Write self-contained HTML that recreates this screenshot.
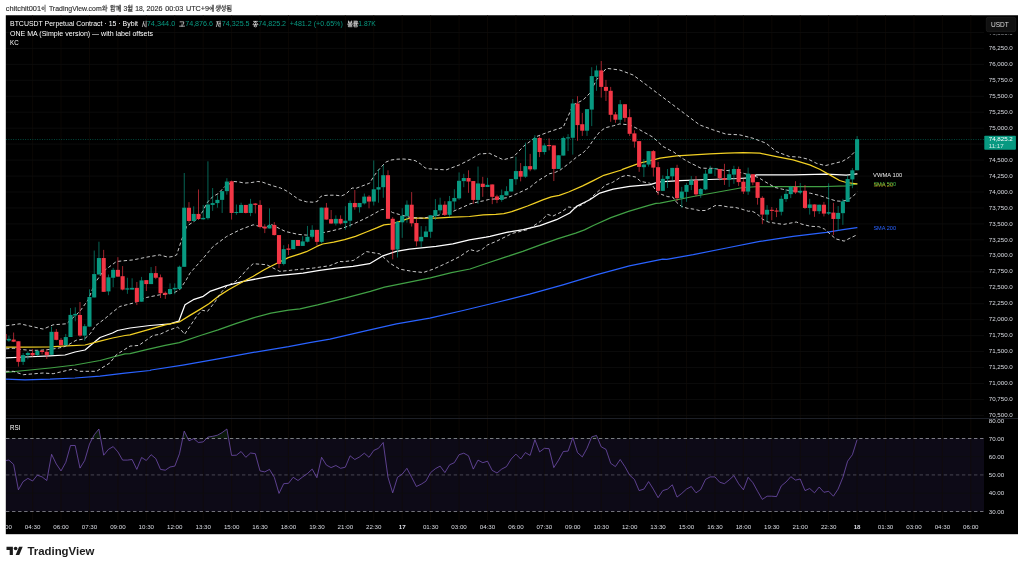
<!DOCTYPE html>
<html><head><meta charset="utf-8"><title>chart</title>
<style>
html,body{margin:0;padding:0;background:#fff;}
body{width:1024px;height:568px;position:relative;overflow:hidden;font-family:"Liberation Sans",sans-serif;}
#hdr{position:absolute;left:6px;top:4.5px;font-size:7.1px;color:#3a3a3a;white-space:nowrap;letter-spacing:0;}
</style></head><body>
<svg width="1024" height="568" viewBox="0 0 1024 568" style="position:absolute;left:0;top:0;will-change:transform">
<defs><clipPath id="plot"><rect x="6" y="15" width="978" height="403.5"/></clipPath>
<clipPath id="rsi"><rect x="6" y="419" width="978" height="99"/></clipPath></defs>
<rect x="5.8" y="15.25" width="1012.2" height="518.95" fill="#000"/>
<rect x="6" y="438.47" width="978" height="72.93" fill="#0d0a17"/>
<g stroke="#130c06" stroke-width="0.6" fill="none"><line x1="32.60" y1="15" x2="32.60" y2="520"/><line x1="61.03" y1="15" x2="61.03" y2="520"/><line x1="89.46" y1="15" x2="89.46" y2="520"/><line x1="117.89" y1="15" x2="117.89" y2="520"/><line x1="146.33" y1="15" x2="146.33" y2="520"/><line x1="174.76" y1="15" x2="174.76" y2="520"/><line x1="203.19" y1="15" x2="203.19" y2="520"/><line x1="231.62" y1="15" x2="231.62" y2="520"/><line x1="260.05" y1="15" x2="260.05" y2="520"/><line x1="288.48" y1="15" x2="288.48" y2="520"/><line x1="316.91" y1="15" x2="316.91" y2="520"/><line x1="345.34" y1="15" x2="345.34" y2="520"/><line x1="373.77" y1="15" x2="373.77" y2="520"/><line x1="402.20" y1="15" x2="402.20" y2="520"/><line x1="430.63" y1="15" x2="430.63" y2="520"/><line x1="459.07" y1="15" x2="459.07" y2="520"/><line x1="487.50" y1="15" x2="487.50" y2="520"/><line x1="515.93" y1="15" x2="515.93" y2="520"/><line x1="544.36" y1="15" x2="544.36" y2="520"/><line x1="572.79" y1="15" x2="572.79" y2="520"/><line x1="601.22" y1="15" x2="601.22" y2="520"/><line x1="629.65" y1="15" x2="629.65" y2="520"/><line x1="658.08" y1="15" x2="658.08" y2="520"/><line x1="686.51" y1="15" x2="686.51" y2="520"/><line x1="714.95" y1="15" x2="714.95" y2="520"/><line x1="743.38" y1="15" x2="743.38" y2="520"/><line x1="771.81" y1="15" x2="771.81" y2="520"/><line x1="800.24" y1="15" x2="800.24" y2="520"/><line x1="828.67" y1="15" x2="828.67" y2="520"/><line x1="857.10" y1="15" x2="857.10" y2="520"/><line x1="885.53" y1="15" x2="885.53" y2="520"/><line x1="913.96" y1="15" x2="913.96" y2="520"/><line x1="942.39" y1="15" x2="942.39" y2="520"/><line x1="970.82" y1="15" x2="970.82" y2="520"/></g>
<g stroke="#0e0e0e" stroke-width="0.8" fill="none"><line x1="6" y1="32.44" x2="984" y2="32.44"/><line x1="6" y1="48.39" x2="984" y2="48.39"/><line x1="6" y1="64.35" x2="984" y2="64.35"/><line x1="6" y1="80.31" x2="984" y2="80.31"/><line x1="6" y1="96.26" x2="984" y2="96.26"/><line x1="6" y1="112.22" x2="984" y2="112.22"/><line x1="6" y1="128.18" x2="984" y2="128.18"/><line x1="6" y1="144.13" x2="984" y2="144.13"/><line x1="6" y1="160.09" x2="984" y2="160.09"/><line x1="6" y1="176.05" x2="984" y2="176.05"/><line x1="6" y1="192.00" x2="984" y2="192.00"/><line x1="6" y1="207.96" x2="984" y2="207.96"/><line x1="6" y1="223.92" x2="984" y2="223.92"/><line x1="6" y1="239.87" x2="984" y2="239.87"/><line x1="6" y1="255.83" x2="984" y2="255.83"/><line x1="6" y1="271.79" x2="984" y2="271.79"/><line x1="6" y1="287.74" x2="984" y2="287.74"/><line x1="6" y1="303.70" x2="984" y2="303.70"/><line x1="6" y1="319.66" x2="984" y2="319.66"/><line x1="6" y1="335.61" x2="984" y2="335.61"/><line x1="6" y1="351.57" x2="984" y2="351.57"/><line x1="6" y1="367.53" x2="984" y2="367.53"/><line x1="6" y1="383.49" x2="984" y2="383.49"/><line x1="6" y1="399.44" x2="984" y2="399.44"/><line x1="6" y1="415.40" x2="984" y2="415.40"/><line x1="6" y1="456.70" x2="984" y2="456.70"/><line x1="6" y1="493.20" x2="984" y2="493.20"/></g>
<line x1="6" y1="418.5" x2="1018" y2="418.5" stroke="#2a2e39" stroke-width="0.7"/>
<line x1="6" y1="139.4" x2="984" y2="139.4" stroke="#089981" stroke-width="0.65" stroke-dasharray="0.9 1.5" opacity="0.9"/>
<g clip-path="url(#plot)">
<polyline points="6.0,379.2 25.0,379.8 50.0,379.2 75.0,378.0 100.0,376.2 125.0,373.2 150.0,370.5 151.1,370.0 182.8,365.1 218.1,358.9 253.3,352.4 288.5,346.6 309.6,342.6 330.0,339.1 363.3,331.4 396.5,323.8 429.8,318.1 463.1,310.5 496.3,302.5 529.6,294.1 562.9,284.8 596.1,274.9 629.4,265.9 662.7,259.2 666.7,259.4 693.3,254.7 726.5,248.0 759.8,241.4 793.1,236.4 826.3,232.4 843.0,229.7 856.9,227.7" fill="none" stroke="#2962ff" stroke-width="1.25" stroke-linejoin="round" stroke-linecap="round"/>
<polyline points="6.0,372.5 25.0,370.5 50.0,368.0 75.0,365.0 100.0,360.5 125.0,353.8 130.0,353.7 147.6,349.3 165.2,345.4 179.3,342.6 200.4,335.5 218.1,329.9 235.7,323.7 253.3,317.9 270.9,313.1 288.5,310.2 300.0,308.9 317.6,304.9 345.8,297.8 370.4,291.3 384.5,287.2 405.7,282.8 430.3,277.9 451.5,272.6 470.0,269.0 487.6,263.0 505.2,257.2 522.8,251.4 540.4,244.9 558.1,238.7 575.7,233.1 584.5,229.9 593.3,225.5 610.9,217.6 628.5,211.4 649.6,205.2 656.0,203.3 660.0,203.1 693.3,196.5 726.5,190.5 743.2,187.5 759.8,186.5 793.1,186.5 826.3,186.5 846.3,185.8 856.9,183.8" fill="none" stroke="#41a045" stroke-width="1.25" stroke-linejoin="round" stroke-linecap="round"/>
<polyline points="6.0,358.0 25.0,357.0 50.0,355.8 65.0,355.0 75.0,352.0 85.0,350.0 92.5,343.8 100.0,337.5 112.5,333.0 117.5,330.5 130.0,328.0 150.0,325.5 170.0,323.8 178.8,321.2 180.0,318.0 185.0,304.7 193.3,299.7 203.3,296.3 209.9,291.4 226.6,285.7 243.2,281.4 269.8,276.4 303.1,273.1 319.7,270.4 336.3,268.1 353.0,266.4 369.6,263.7 382.9,255.8 396.2,251.4 409.5,249.1 436.1,246.4 452.8,243.8 469.4,239.8 486.0,237.1 490.0,236.3 506.6,232.3 523.3,229.6 539.9,225.7 556.5,219.7 569.8,213.0 576.5,206.4 589.8,199.7 599.8,193.1 613.1,189.1 629.7,186.4 650.0,184.7 654.9,183.2 659.9,181.9 679.6,180.7 709.2,179.5 738.8,178.5 748.6,177.8 749.8,177.2 756.5,174.9 793.1,174.9 826.3,174.2 846.3,175.2 856.9,173.9" fill="none" stroke="#ffffff" stroke-width="1.25" stroke-linejoin="round" stroke-linecap="round"/>
<polyline points="6.0,347.0 25.0,347.0 50.0,346.8 67.5,345.8 85.0,345.0 100.0,341.2 112.5,338.0 125.0,335.5 130.0,334.8 147.6,329.9 165.2,324.9 179.3,322.0 189.9,315.4 200.4,309.1 209.3,303.5 218.1,296.4 228.6,289.7 239.2,283.7 253.3,276.2 263.8,270.0 270.0,266.8 288.3,257.6 300.0,253.8 306.4,251.7 317.3,246.2 322.8,244.0 333.7,242.2 344.6,239.7 355.5,236.4 366.4,232.0 377.3,227.7 383.9,224.9 390.4,224.1 399.2,221.7 409.5,218.2 422.8,218.2 436.1,218.2 452.8,217.2 469.4,216.5 483.2,214.8 495.8,214.4 503.8,213.6 511.7,211.6 519.6,208.8 527.5,206.0 535.4,202.9 543.4,199.7 551.3,196.9 559.2,195.3 568.6,192.0 582.7,185.9 593.3,180.6 603.8,175.3 621.5,170.0 623.1,169.1 639.7,163.1 656.3,159.1 660.0,158.2 676.6,155.9 693.3,154.9 709.9,153.9 726.5,153.2 743.2,152.6 759.8,153.2 776.4,156.6 793.1,159.9 809.7,164.9 819.7,169.2 829.7,174.9 839.6,180.5 846.3,182.5 856.9,183.8" fill="none" stroke="#f2d024" stroke-width="1.25" stroke-linejoin="round" stroke-linecap="round"/>
<polyline points="6.0,325.8 20.0,323.8 43.2,329.1 53.2,324.8 66.5,323.8 79.8,311.4 88.2,299.8 94.8,283.2 103.1,271.5 116.4,261.5 133.1,259.9 146.4,257.2 159.7,254.9 168.0,257.2 173.3,256.4 176.7,254.8 181.6,239.8 186.6,226.5 190.0,224.0 194.4,221.3 199.8,215.9 203.1,210.9 206.4,203.8 209.7,199.5 213.5,196.2 218.4,193.5 222.8,188.6 225.0,186.4 233.7,181.5 239.1,182.0 244.6,183.1 251.1,182.6 257.7,181.5 262.1,182.0 267.5,184.0 274.1,186.2 280.6,188.0 286.1,190.7 290.4,193.5 294.8,196.7 299.2,199.7 306.4,201.8 312.9,202.2 317.3,201.5 319.5,197.6 322.2,195.7 328.2,195.2 335.9,195.2 341.3,196.0 345.7,194.1 349.0,191.1 352.0,188.0 356.3,188.2 369.6,183.2 371.2,180.5 374.1,175.8 377.6,171.1 381.7,166.4 385.8,162.1 391.1,160.0 397.0,159.2 403.0,159.0 409.0,159.4 415.1,160.6 420.4,163.8 425.1,167.9 429.2,168.8 446.1,169.9 459.4,164.9 469.4,159.9 479.4,154.0 489.4,153.3 503.3,159.8 513.3,157.1 523.3,146.5 536.6,136.5 549.9,131.5 563.2,127.2 573.2,104.9 583.2,99.9 589.8,93.2 596.5,79.9 606.4,68.3 619.7,70.0 633.1,75.0 646.4,84.9 659.7,94.9 673.0,104.9 686.3,114.9 699.6,124.9 712.9,129.8 726.2,134.2 739.5,134.8 752.8,138.2 766.1,143.2 776.1,151.5 789.4,156.5 799.4,157.1 808.5,159.3 816.9,163.5 825.4,165.6 833.8,163.5 842.3,161.4 849.3,157.2 854.2,152.3" fill="none" stroke="#dedede" stroke-width="0.9" stroke-dasharray="3.4 2.4" stroke-linejoin="round"/>
<polyline points="6.0,348.8 14.0,348.2 22.0,349.6 30.0,350.3 40.0,350.3 48.0,349.6 57.0,348.4 64.0,346.8 67.6,345.2 76.1,340.3 84.5,338.9 90.1,333.9 95.8,325.5 104.2,319.2 112.7,312.1 119.8,306.5 133.1,303.1 146.4,297.5 159.7,294.8 173.0,293.2 179.6,289.8 186.3,279.8 190.0,273.1 203.3,258.1 213.2,246.4 226.6,236.5 239.9,229.8 253.2,224.8 266.5,228.1 270.0,223.8 277.0,227.3 285.5,231.5 298.2,234.4 306.6,235.1 325.0,232.3 332.0,230.8 343.2,228.0 354.5,223.5 368.6,216.8 381.3,209.7 386.9,209.0 392.5,212.5 399.6,214.6 410.8,217.5 422.8,218.2 436.1,215.8 452.8,211.5 462.8,207.2 470.0,203.9 478.5,201.8 483.2,200.9 488.7,199.5 496.0,198.8 502.0,198.3 507.3,197.7 512.9,195.5 518.4,193.0 524.0,190.4 529.5,187.8 534.3,183.6 539.0,180.1 544.2,177.0 549.3,173.8 555.2,172.4 560.1,170.1 568.6,163.7 577.0,156.7 582.7,153.2 588.3,147.5 593.9,139.1 599.6,132.0 605.2,127.8 613.7,125.7 619.7,123.9 629.7,124.9 639.7,129.8 653.0,137.2 663.0,146.5 668.0,149.1 669.6,150.0 673.8,152.1 683.7,159.2 689.3,162.4 700.6,168.0 706.2,168.3 713.2,168.3 724.5,170.4 733.0,170.8 738.6,172.0 744.2,173.5 758.3,177.4 765.4,181.9 775.2,187.5 782.3,189.2 786.5,190.1 810.4,193.2 818.9,195.3 827.3,198.1 835.8,200.9 841.4,201.3 847.0,200.2 852.7,196.7 857.2,191.8" fill="none" stroke="#dedede" stroke-width="0.9" stroke-dasharray="3.4 2.4" stroke-linejoin="round"/>
<polyline points="6.0,371.3 13.3,371.3 23.3,374.7 43.2,373.0 53.2,373.7 73.2,369.0 79.8,371.3 96.5,371.3 109.8,363.0 116.4,354.7 130.0,346.1 138.8,345.4 145.9,340.4 152.9,335.5 159.9,334.3 168.7,330.2 177.6,327.2 181.1,329.9 184.6,334.3 189.9,326.4 196.9,315.8 202.2,310.2 207.5,311.4 214.5,302.6 221.6,292.0 226.9,285.9 235.7,281.4 242.7,274.4 246.2,270.0 253.2,263.7 266.5,264.7 279.8,271.4 296.4,269.7 313.1,268.1 329.7,265.7 340.0,261.5 343.0,261.7 353.3,260.5 366.6,251.6 379.9,253.9 389.9,263.2 399.9,269.2 413.2,271.5 423.2,272.5 433.1,269.2 446.4,263.2 459.7,256.6 470.0,249.6 477.0,251.4 482.3,249.3 487.6,244.9 496.4,241.3 505.2,236.9 512.3,233.4 522.8,230.8 528.1,229.5 540.4,221.4 547.5,214.4 552.8,216.1 561.6,211.9 568.6,207.0 575.7,207.9 582.7,204.3 589.8,199.1 596.8,192.5 605.6,185.0 612.7,182.3 621.5,176.7 626.7,175.3 635.5,177.0 640.8,181.4 649.6,183.2 653.0,186.1 656.9,192.1 661.8,194.5 667.8,196.7 672.7,197.0 676.6,202.4 681.6,206.4 687.5,208.3 693.4,209.1 699.3,210.5 705.2,210.5 710.2,208.3 715.1,205.6 721.0,205.6 728.9,207.1 734.8,207.3 740.7,208.8 748.6,211.3 751.3,210.8 756.9,213.6 762.5,219.2 768.2,222.0 776.6,223.5 783.7,224.4 796.3,222.0 802.0,224.2 810.4,226.3 818.9,226.7 824.5,229.1 830.1,234.0 835.8,238.9 844.2,241.1 849.9,238.2 857.2,234.7" fill="none" stroke="#dedede" stroke-width="0.9" stroke-dasharray="3.4 2.4" stroke-linejoin="round"/>
<rect x="3.72" y="333.94" width="0.9" height="5.92" fill="#f23645" opacity="0.72"/><rect x="8.46" y="335.63" width="0.9" height="6.20" fill="#089981" opacity="0.72"/><rect x="13.20" y="332.54" width="0.9" height="9.58" fill="#f23645" opacity="0.72"/><rect x="17.94" y="341.27" width="0.9" height="25.35" fill="#f23645" opacity="0.72"/><rect x="22.67" y="352.96" width="0.9" height="11.97" fill="#089981" opacity="0.72"/><rect x="27.41" y="351.55" width="0.9" height="7.75" fill="#089981" opacity="0.72"/><rect x="32.15" y="349.15" width="0.9" height="7.61" fill="#f23645" opacity="0.72"/><rect x="36.89" y="350.14" width="0.9" height="6.06" fill="#089981" opacity="0.72"/><rect x="41.63" y="350.14" width="0.9" height="4.23" fill="#f23645" opacity="0.72"/><rect x="46.37" y="349.44" width="0.9" height="9.58" fill="#f23645" opacity="0.72"/><rect x="51.10" y="326.62" width="0.9" height="28.17" fill="#089981" opacity="0.72"/><rect x="55.84" y="329.01" width="0.9" height="11.27" fill="#f23645" opacity="0.72"/><rect x="60.58" y="337.89" width="0.9" height="7.32" fill="#f23645" opacity="0.72"/><rect x="65.32" y="333.94" width="0.9" height="11.27" fill="#089981" opacity="0.72"/><rect x="70.06" y="308.00" width="0.9" height="29.00" fill="#089981" opacity="0.72"/><rect x="74.80" y="307.30" width="0.9" height="14.00" fill="#089981" opacity="0.72"/><rect x="79.54" y="302.00" width="0.9" height="34.80" fill="#f23645" opacity="0.72"/><rect x="84.27" y="324.08" width="0.9" height="16.62" fill="#089981" opacity="0.72"/><rect x="89.01" y="289.30" width="0.9" height="37.30" fill="#089981" opacity="0.72"/><rect x="93.75" y="250.56" width="0.9" height="46.90" fill="#089981" opacity="0.72"/><rect x="98.49" y="241.69" width="0.9" height="32.82" fill="#089981" opacity="0.72"/><rect x="103.23" y="249.86" width="0.9" height="41.97" fill="#f23645" opacity="0.72"/><rect x="107.97" y="274.51" width="0.9" height="20.70" fill="#089981" opacity="0.72"/><rect x="112.71" y="267.89" width="0.9" height="19.30" fill="#089981" opacity="0.72"/><rect x="117.44" y="257.18" width="0.9" height="19.72" fill="#f23645" opacity="0.72"/><rect x="122.18" y="266.06" width="0.9" height="24.37" fill="#f23645" opacity="0.72"/><rect x="126.92" y="277.75" width="0.9" height="16.06" fill="#089981" opacity="0.72"/><rect x="131.66" y="278.31" width="0.9" height="11.27" fill="#089981" opacity="0.72"/><rect x="136.40" y="281.97" width="0.9" height="23.10" fill="#f23645" opacity="0.72"/><rect x="141.14" y="276.90" width="0.9" height="24.79" fill="#089981" opacity="0.72"/><rect x="145.88" y="280.14" width="0.9" height="10.85" fill="#f23645" opacity="0.72"/><rect x="150.61" y="267.04" width="0.9" height="17.04" fill="#089981" opacity="0.72"/><rect x="155.35" y="266.06" width="0.9" height="13.10" fill="#f23645" opacity="0.72"/><rect x="160.09" y="274.51" width="0.9" height="23.52" fill="#f23645" opacity="0.72"/><rect x="164.83" y="291.41" width="0.9" height="7.46" fill="#f23645" opacity="0.72"/><rect x="169.57" y="283.38" width="0.9" height="11.27" fill="#089981" opacity="0.72"/><rect x="174.31" y="283.38" width="0.9" height="10.85" fill="#089981" opacity="0.72"/><rect x="179.04" y="265.63" width="0.9" height="23.38" fill="#089981" opacity="0.72"/><rect x="183.78" y="173.00" width="0.9" height="93.80" fill="#089981" opacity="0.72"/><rect x="188.52" y="202.11" width="0.9" height="20.70" fill="#f23645" opacity="0.72"/><rect x="193.26" y="206.34" width="0.9" height="14.65" fill="#089981" opacity="0.72"/><rect x="198.00" y="189.44" width="0.9" height="30.56" fill="#f23645" opacity="0.72"/><rect x="202.74" y="204.93" width="0.9" height="14.65" fill="#089981" opacity="0.72"/><rect x="207.48" y="161.30" width="0.9" height="58.28" fill="#089981" opacity="0.72"/><rect x="212.21" y="188.03" width="0.9" height="22.82" fill="#089981" opacity="0.72"/><rect x="216.95" y="195.35" width="0.9" height="12.39" fill="#089981" opacity="0.72"/><rect x="221.69" y="191.13" width="0.9" height="21.83" fill="#089981" opacity="0.72"/><rect x="226.43" y="178.17" width="0.9" height="16.48" fill="#089981" opacity="0.72"/><rect x="231.17" y="180.56" width="0.9" height="39.01" fill="#f23645" opacity="0.72"/><rect x="235.91" y="204.51" width="0.9" height="10.28" fill="#089981" opacity="0.72"/><rect x="240.65" y="202.68" width="0.9" height="10.28" fill="#089981" opacity="0.72"/><rect x="245.38" y="204.93" width="0.9" height="8.45" fill="#f23645" opacity="0.72"/><rect x="250.12" y="198.87" width="0.9" height="17.32" fill="#089981" opacity="0.72"/><rect x="254.86" y="203.10" width="0.9" height="10.28" fill="#f23645" opacity="0.72"/><rect x="259.60" y="200.28" width="0.9" height="28.17" fill="#f23645" opacity="0.72"/><rect x="264.34" y="224.23" width="0.9" height="8.87" fill="#f23645" opacity="0.72"/><rect x="269.08" y="208.31" width="0.9" height="20.14" fill="#089981" opacity="0.72"/><rect x="273.81" y="222.11" width="0.9" height="13.38" fill="#f23645" opacity="0.72"/><rect x="278.55" y="235.07" width="0.9" height="33.10" fill="#f23645" opacity="0.72"/><rect x="283.29" y="245.21" width="0.9" height="20.14" fill="#089981" opacity="0.72"/><rect x="288.03" y="244.23" width="0.9" height="10.85" fill="#f23645" opacity="0.72"/><rect x="292.77" y="240.00" width="0.9" height="9.15" fill="#089981" opacity="0.72"/><rect x="297.51" y="240.00" width="0.9" height="5.92" fill="#f23645" opacity="0.72"/><rect x="302.25" y="236.20" width="0.9" height="9.72" fill="#089981" opacity="0.72"/><rect x="306.98" y="225.92" width="0.9" height="16.48" fill="#089981" opacity="0.72"/><rect x="311.72" y="225.21" width="0.9" height="13.38" fill="#089981" opacity="0.72"/><rect x="316.46" y="229.86" width="0.9" height="15.77" fill="#f23645" opacity="0.72"/><rect x="321.20" y="207.61" width="0.9" height="35.92" fill="#089981" opacity="0.72"/><rect x="325.94" y="202.96" width="0.9" height="16.62" fill="#f23645" opacity="0.72"/><rect x="330.68" y="210.00" width="0.9" height="13.80" fill="#f23645" opacity="0.72"/><rect x="335.42" y="215.35" width="0.9" height="10.14" fill="#089981" opacity="0.72"/><rect x="340.15" y="215.35" width="0.9" height="9.15" fill="#f23645" opacity="0.72"/><rect x="344.89" y="206.20" width="0.9" height="23.52" fill="#089981" opacity="0.72"/><rect x="349.63" y="200.56" width="0.9" height="26.76" fill="#089981" opacity="0.72"/><rect x="354.37" y="190.00" width="0.9" height="19.72" fill="#f23645" opacity="0.72"/><rect x="359.11" y="202.96" width="0.9" height="9.58" fill="#089981" opacity="0.72"/><rect x="363.85" y="193.52" width="0.9" height="10.99" fill="#089981" opacity="0.72"/><rect x="368.58" y="195.21" width="0.9" height="13.10" fill="#f23645" opacity="0.72"/><rect x="373.32" y="160.42" width="0.9" height="45.07" fill="#089981" opacity="0.72"/><rect x="378.06" y="168.87" width="0.9" height="33.80" fill="#089981" opacity="0.72"/><rect x="382.80" y="165.07" width="0.9" height="32.68" fill="#089981" opacity="0.72"/><rect x="387.54" y="170.30" width="0.9" height="48.50" fill="#f23645" opacity="0.72"/><rect x="392.28" y="217.11" width="0.9" height="42.25" fill="#f23645" opacity="0.72"/><rect x="397.02" y="220.92" width="0.9" height="36.62" fill="#089981" opacity="0.72"/><rect x="401.75" y="208.24" width="0.9" height="29.58" fill="#089981" opacity="0.72"/><rect x="406.49" y="200.49" width="0.9" height="22.25" fill="#089981" opacity="0.72"/><rect x="411.23" y="192.04" width="0.9" height="34.51" fill="#f23645" opacity="0.72"/><rect x="415.97" y="218.80" width="0.9" height="27.46" fill="#f23645" opacity="0.72"/><rect x="420.71" y="226.13" width="0.9" height="20.85" fill="#089981" opacity="0.72"/><rect x="425.45" y="226.13" width="0.9" height="10.99" fill="#089981" opacity="0.72"/><rect x="430.19" y="215.28" width="0.9" height="22.54" fill="#089981" opacity="0.72"/><rect x="434.92" y="199.08" width="0.9" height="20.85" fill="#089981" opacity="0.72"/><rect x="439.66" y="197.68" width="0.9" height="16.20" fill="#089981" opacity="0.72"/><rect x="444.40" y="201.20" width="0.9" height="14.79" fill="#f23645" opacity="0.72"/><rect x="449.14" y="195.99" width="0.9" height="21.13" fill="#089981" opacity="0.72"/><rect x="453.88" y="189.23" width="0.9" height="20.42" fill="#089981" opacity="0.72"/><rect x="458.62" y="172.40" width="0.9" height="27.40" fill="#089981" opacity="0.72"/><rect x="463.35" y="173.80" width="0.9" height="13.38" fill="#089981" opacity="0.72"/><rect x="468.09" y="170.28" width="0.9" height="22.54" fill="#f23645" opacity="0.72"/><rect x="472.83" y="181.06" width="0.9" height="22.82" fill="#f23645" opacity="0.72"/><rect x="477.57" y="166.55" width="0.9" height="37.32" fill="#089981" opacity="0.72"/><rect x="482.31" y="176.83" width="0.9" height="20.00" fill="#f23645" opacity="0.72"/><rect x="487.05" y="177.82" width="0.9" height="9.15" fill="#089981" opacity="0.72"/><rect x="491.79" y="184.44" width="0.9" height="19.72" fill="#f23645" opacity="0.72"/><rect x="496.52" y="194.72" width="0.9" height="8.45" fill="#f23645" opacity="0.72"/><rect x="501.26" y="189.51" width="0.9" height="12.25" fill="#089981" opacity="0.72"/><rect x="506.00" y="186.27" width="0.9" height="9.15" fill="#089981" opacity="0.72"/><rect x="510.74" y="178.94" width="0.9" height="12.54" fill="#089981" opacity="0.72"/><rect x="515.48" y="156.69" width="0.9" height="28.17" fill="#089981" opacity="0.72"/><rect x="520.22" y="163.03" width="0.9" height="18.31" fill="#f23645" opacity="0.72"/><rect x="524.95" y="142.61" width="0.9" height="35.21" fill="#089981" opacity="0.72"/><rect x="529.69" y="153.87" width="0.9" height="17.32" fill="#f23645" opacity="0.72"/><rect x="534.43" y="135.14" width="0.9" height="35.21" fill="#089981" opacity="0.72"/><rect x="539.17" y="136.27" width="0.9" height="20.85" fill="#f23645" opacity="0.72"/><rect x="543.91" y="143.31" width="0.9" height="11.27" fill="#089981" opacity="0.72"/><rect x="548.65" y="138.38" width="0.9" height="11.97" fill="#f23645" opacity="0.72"/><rect x="553.39" y="145.42" width="0.9" height="35.63" fill="#f23645" opacity="0.72"/><rect x="558.12" y="155.28" width="0.9" height="13.66" fill="#089981" opacity="0.72"/><rect x="562.86" y="136.55" width="0.9" height="19.01" fill="#089981" opacity="0.72"/><rect x="567.60" y="134.15" width="0.9" height="16.90" fill="#089981" opacity="0.72"/><rect x="572.34" y="99.00" width="0.9" height="55.60" fill="#089981" opacity="0.72"/><rect x="577.08" y="96.20" width="0.9" height="44.60" fill="#f23645" opacity="0.72"/><rect x="581.82" y="112.96" width="0.9" height="22.96" fill="#f23645" opacity="0.72"/><rect x="586.56" y="109.15" width="0.9" height="26.76" fill="#089981" opacity="0.72"/><rect x="591.29" y="67.20" width="0.9" height="58.90" fill="#089981" opacity="0.72"/><rect x="596.03" y="65.49" width="0.9" height="25.35" fill="#089981" opacity="0.72"/><rect x="600.77" y="60.99" width="0.9" height="36.62" fill="#f23645" opacity="0.72"/><rect x="605.51" y="79.86" width="0.9" height="21.13" fill="#f23645" opacity="0.72"/><rect x="610.25" y="86.90" width="0.9" height="34.90" fill="#f23645" opacity="0.72"/><rect x="614.99" y="111.97" width="0.9" height="10.85" fill="#f23645" opacity="0.72"/><rect x="619.72" y="100.00" width="0.9" height="22.82" fill="#089981" opacity="0.72"/><rect x="624.46" y="104.23" width="0.9" height="17.61" fill="#f23645" opacity="0.72"/><rect x="629.20" y="109.15" width="0.9" height="26.76" fill="#f23645" opacity="0.72"/><rect x="633.94" y="130.28" width="0.9" height="17.32" fill="#f23645" opacity="0.72"/><rect x="638.68" y="141.13" width="0.9" height="30.70" fill="#f23645" opacity="0.72"/><rect x="643.42" y="159.15" width="0.9" height="17.89" fill="#089981" opacity="0.72"/><rect x="648.16" y="151.13" width="0.9" height="15.49" fill="#089981" opacity="0.72"/><rect x="652.89" y="150.00" width="0.9" height="26.48" fill="#f23645" opacity="0.72"/><rect x="657.63" y="161.97" width="0.9" height="33.10" fill="#f23645" opacity="0.72"/><rect x="662.37" y="175.35" width="0.9" height="15.77" fill="#089981" opacity="0.72"/><rect x="667.11" y="169.01" width="0.9" height="19.01" fill="#089981" opacity="0.72"/><rect x="671.85" y="167.89" width="0.9" height="12.39" fill="#089981" opacity="0.72"/><rect x="676.59" y="164.79" width="0.9" height="36.20" fill="#f23645" opacity="0.72"/><rect x="681.33" y="186.90" width="0.9" height="20.85" fill="#089981" opacity="0.72"/><rect x="686.06" y="183.10" width="0.9" height="18.73" fill="#089981" opacity="0.72"/><rect x="690.80" y="176.06" width="0.9" height="14.08" fill="#089981" opacity="0.72"/><rect x="695.54" y="176.06" width="0.9" height="20.14" fill="#f23645" opacity="0.72"/><rect x="700.28" y="188.03" width="0.9" height="9.86" fill="#089981" opacity="0.72"/><rect x="705.02" y="169.72" width="0.9" height="20.42" fill="#089981" opacity="0.72"/><rect x="709.76" y="165.77" width="0.9" height="7.89" fill="#089981" opacity="0.72"/><rect x="714.50" y="168.03" width="0.9" height="8.03" fill="#089981" opacity="0.72"/><rect x="719.23" y="169.01" width="0.9" height="11.27" fill="#f23645" opacity="0.72"/><rect x="723.97" y="163.80" width="0.9" height="21.13" fill="#f23645" opacity="0.72"/><rect x="728.71" y="169.01" width="0.9" height="17.89" fill="#089981" opacity="0.72"/><rect x="733.45" y="165.77" width="0.9" height="18.03" fill="#089981" opacity="0.72"/><rect x="738.19" y="166.62" width="0.9" height="19.30" fill="#f23645" opacity="0.72"/><rect x="742.93" y="178.87" width="0.9" height="15.07" fill="#f23645" opacity="0.72"/><rect x="747.66" y="167.61" width="0.9" height="27.18" fill="#089981" opacity="0.72"/><rect x="752.40" y="174.23" width="0.9" height="10.99" fill="#f23645" opacity="0.72"/><rect x="757.14" y="182.11" width="0.9" height="22.54" fill="#f23645" opacity="0.72"/><rect x="761.88" y="196.27" width="0.9" height="27.89" fill="#f23645" opacity="0.72"/><rect x="766.62" y="205.14" width="0.9" height="16.20" fill="#089981" opacity="0.72"/><rect x="771.36" y="206.97" width="0.9" height="13.24" fill="#f23645" opacity="0.72"/><rect x="776.10" y="207.96" width="0.9" height="9.15" fill="#f23645" opacity="0.72"/><rect x="780.83" y="195.70" width="0.9" height="19.72" fill="#089981" opacity="0.72"/><rect x="785.57" y="188.94" width="0.9" height="12.96" fill="#089981" opacity="0.72"/><rect x="790.31" y="185.85" width="0.9" height="12.25" fill="#089981" opacity="0.72"/><rect x="795.05" y="181.20" width="0.9" height="12.68" fill="#f23645" opacity="0.72"/><rect x="799.79" y="183.03" width="0.9" height="11.27" fill="#089981" opacity="0.72"/><rect x="804.53" y="185.00" width="0.9" height="23.94" fill="#f23645" opacity="0.72"/><rect x="809.26" y="198.80" width="0.9" height="15.77" fill="#089981" opacity="0.72"/><rect x="814.00" y="204.44" width="0.9" height="12.39" fill="#f23645" opacity="0.72"/><rect x="818.74" y="204.72" width="0.9" height="9.30" fill="#089981" opacity="0.72"/><rect x="823.48" y="201.90" width="0.9" height="14.51" fill="#f23645" opacity="0.72"/><rect x="828.22" y="183.31" width="0.9" height="31.69" fill="#089981" opacity="0.72"/><rect x="832.96" y="202.75" width="0.9" height="32.39" fill="#f23645" opacity="0.72"/><rect x="837.70" y="206.13" width="0.9" height="24.37" fill="#089981" opacity="0.72"/><rect x="842.43" y="198.80" width="0.9" height="26.06" fill="#089981" opacity="0.72"/><rect x="847.17" y="175.56" width="0.9" height="26.34" fill="#089981" opacity="0.72"/><rect x="851.91" y="168.03" width="0.9" height="20.14" fill="#089981" opacity="0.72"/><rect x="856.65" y="136.06" width="0.9" height="34.23" fill="#089981" opacity="0.72"/>
<rect x="2.12" y="333.94" width="4.10" height="5.92" fill="#f23645"/><rect x="6.86" y="338.87" width="4.10" height="1.69" fill="#089981"/><rect x="11.60" y="339.58" width="4.10" height="2.11" fill="#f23645"/><rect x="16.34" y="341.27" width="4.10" height="20.56" fill="#f23645"/><rect x="21.07" y="355.07" width="4.10" height="6.76" fill="#089981"/><rect x="25.81" y="352.96" width="4.10" height="2.11" fill="#089981"/><rect x="30.55" y="352.96" width="4.10" height="2.39" fill="#f23645"/><rect x="35.29" y="350.85" width="4.10" height="4.23" fill="#089981"/><rect x="40.03" y="350.56" width="4.10" height="1.41" fill="#f23645"/><rect x="44.77" y="351.83" width="4.10" height="3.24" fill="#f23645"/><rect x="49.50" y="331.83" width="4.10" height="22.96" fill="#089981"/><rect x="54.24" y="331.83" width="4.10" height="8.03" fill="#f23645"/><rect x="58.98" y="339.86" width="4.10" height="5.35" fill="#f23645"/><rect x="63.72" y="337.04" width="4.10" height="8.17" fill="#089981"/><rect x="68.46" y="314.90" width="4.10" height="22.10" fill="#089981"/><rect x="73.20" y="313.90" width="4.10" height="1.60" fill="#089981"/><rect x="77.94" y="315.00" width="4.10" height="20.60" fill="#f23645"/><rect x="82.67" y="326.20" width="4.10" height="9.44" fill="#089981"/><rect x="87.41" y="297.00" width="4.10" height="29.60" fill="#089981"/><rect x="92.15" y="274.08" width="4.10" height="23.38" fill="#089981"/><rect x="96.89" y="258.03" width="4.10" height="16.48" fill="#089981"/><rect x="101.63" y="258.03" width="4.10" height="33.80" fill="#f23645"/><rect x="106.37" y="277.32" width="4.10" height="14.08" fill="#089981"/><rect x="111.11" y="269.86" width="4.10" height="7.89" fill="#089981"/><rect x="115.84" y="269.86" width="4.10" height="6.76" fill="#f23645"/><rect x="120.58" y="276.20" width="4.10" height="13.38" fill="#f23645"/><rect x="125.32" y="288.31" width="4.10" height="1.27" fill="#089981"/><rect x="130.06" y="287.89" width="4.10" height="1.69" fill="#089981"/><rect x="134.80" y="287.89" width="4.10" height="14.08" fill="#f23645"/><rect x="139.54" y="280.42" width="4.10" height="21.27" fill="#089981"/><rect x="144.28" y="280.14" width="4.10" height="3.94" fill="#f23645"/><rect x="149.01" y="273.10" width="4.10" height="10.99" fill="#089981"/><rect x="153.75" y="273.10" width="4.10" height="4.65" fill="#f23645"/><rect x="158.49" y="277.32" width="4.10" height="15.92" fill="#f23645"/><rect x="163.23" y="292.82" width="4.10" height="1.83" fill="#f23645"/><rect x="167.97" y="289.01" width="4.10" height="4.79" fill="#089981"/><rect x="172.71" y="287.89" width="4.10" height="1.41" fill="#089981"/><rect x="177.44" y="266.76" width="4.10" height="22.25" fill="#089981"/><rect x="182.18" y="207.70" width="4.10" height="59.10" fill="#089981"/><rect x="186.92" y="207.75" width="4.10" height="13.24" fill="#f23645"/><rect x="191.66" y="213.94" width="4.10" height="7.04" fill="#089981"/><rect x="196.40" y="213.94" width="4.10" height="5.07" fill="#f23645"/><rect x="201.14" y="217.89" width="4.10" height="1.41" fill="#089981"/><rect x="205.88" y="204.51" width="4.10" height="13.66" fill="#089981"/><rect x="210.61" y="203.10" width="4.10" height="1.83" fill="#089981"/><rect x="215.35" y="199.86" width="4.10" height="3.24" fill="#089981"/><rect x="220.09" y="191.13" width="4.10" height="8.73" fill="#089981"/><rect x="224.83" y="181.55" width="4.10" height="9.58" fill="#089981"/><rect x="229.57" y="181.27" width="4.10" height="31.69" fill="#f23645"/><rect x="234.31" y="211.97" width="4.10" height="0.99" fill="#089981"/><rect x="239.05" y="204.93" width="4.10" height="8.03" fill="#089981"/><rect x="243.78" y="204.93" width="4.10" height="8.03" fill="#f23645"/><rect x="248.52" y="203.80" width="4.10" height="9.15" fill="#089981"/><rect x="253.26" y="203.52" width="4.10" height="1.41" fill="#f23645"/><rect x="258.00" y="204.93" width="4.10" height="22.11" fill="#f23645"/><rect x="262.74" y="226.62" width="4.10" height="1.83" fill="#f23645"/><rect x="267.48" y="224.93" width="4.10" height="3.52" fill="#089981"/><rect x="272.21" y="224.93" width="4.10" height="10.14" fill="#f23645"/><rect x="276.95" y="235.07" width="4.10" height="28.87" fill="#f23645"/><rect x="281.69" y="249.15" width="4.10" height="14.79" fill="#089981"/><rect x="286.43" y="248.45" width="4.10" height="1.41" fill="#f23645"/><rect x="291.17" y="240.00" width="4.10" height="9.15" fill="#089981"/><rect x="295.91" y="240.00" width="4.10" height="5.92" fill="#f23645"/><rect x="300.65" y="241.41" width="4.10" height="4.51" fill="#089981"/><rect x="305.38" y="236.76" width="4.10" height="4.93" fill="#089981"/><rect x="310.12" y="229.86" width="4.10" height="6.90" fill="#089981"/><rect x="314.86" y="229.86" width="4.10" height="11.97" fill="#f23645"/><rect x="319.60" y="207.61" width="4.10" height="34.23" fill="#089981"/><rect x="324.34" y="207.61" width="4.10" height="11.97" fill="#f23645"/><rect x="329.08" y="219.15" width="4.10" height="4.37" fill="#f23645"/><rect x="333.81" y="218.87" width="4.10" height="4.65" fill="#089981"/><rect x="338.55" y="218.87" width="4.10" height="4.65" fill="#f23645"/><rect x="343.29" y="220.70" width="4.10" height="2.39" fill="#089981"/><rect x="348.03" y="202.96" width="4.10" height="17.75" fill="#089981"/><rect x="352.77" y="202.96" width="4.10" height="4.23" fill="#f23645"/><rect x="357.51" y="202.96" width="4.10" height="4.23" fill="#089981"/><rect x="362.25" y="196.62" width="4.10" height="6.76" fill="#089981"/><rect x="366.98" y="196.62" width="4.10" height="4.93" fill="#f23645"/><rect x="371.72" y="189.30" width="4.10" height="12.25" fill="#089981"/><rect x="376.46" y="187.18" width="4.10" height="2.39" fill="#089981"/><rect x="381.20" y="175.21" width="4.10" height="11.97" fill="#089981"/><rect x="385.94" y="175.20" width="4.10" height="43.60" fill="#f23645"/><rect x="390.68" y="218.80" width="4.10" height="30.99" fill="#f23645"/><rect x="395.42" y="221.90" width="4.10" height="27.61" fill="#089981"/><rect x="400.15" y="215.70" width="4.10" height="6.62" fill="#089981"/><rect x="404.89" y="204.72" width="4.10" height="11.27" fill="#089981"/><rect x="409.63" y="204.72" width="4.10" height="18.59" fill="#f23645"/><rect x="414.37" y="223.03" width="4.10" height="18.31" fill="#f23645"/><rect x="419.11" y="236.83" width="4.10" height="4.51" fill="#089981"/><rect x="423.85" y="231.48" width="4.10" height="5.63" fill="#089981"/><rect x="428.58" y="215.28" width="4.10" height="16.48" fill="#089981"/><rect x="433.32" y="210.07" width="4.10" height="5.92" fill="#089981"/><rect x="438.06" y="204.72" width="4.10" height="5.63" fill="#089981"/><rect x="442.80" y="204.72" width="4.10" height="10.14" fill="#f23645"/><rect x="447.54" y="201.20" width="4.10" height="13.66" fill="#089981"/><rect x="452.28" y="197.96" width="4.10" height="3.52" fill="#089981"/><rect x="457.02" y="180.80" width="4.10" height="17.60" fill="#089981"/><rect x="461.75" y="178.03" width="4.10" height="3.10" fill="#089981"/><rect x="466.49" y="178.03" width="4.10" height="3.52" fill="#f23645"/><rect x="471.23" y="181.06" width="4.10" height="18.87" fill="#f23645"/><rect x="475.97" y="183.45" width="4.10" height="16.48" fill="#089981"/><rect x="480.71" y="183.73" width="4.10" height="3.24" fill="#f23645"/><rect x="485.45" y="184.86" width="4.10" height="2.11" fill="#089981"/><rect x="490.19" y="184.44" width="4.10" height="12.39" fill="#f23645"/><rect x="494.92" y="196.41" width="4.10" height="3.52" fill="#f23645"/><rect x="499.66" y="195.14" width="4.10" height="4.79" fill="#089981"/><rect x="504.40" y="191.20" width="4.10" height="4.23" fill="#089981"/><rect x="509.14" y="178.94" width="4.10" height="12.54" fill="#089981"/><rect x="513.88" y="171.06" width="4.10" height="8.17" fill="#089981"/><rect x="518.62" y="171.06" width="4.10" height="5.63" fill="#f23645"/><rect x="523.36" y="166.13" width="4.10" height="10.56" fill="#089981"/><rect x="528.09" y="166.13" width="4.10" height="3.24" fill="#f23645"/><rect x="532.83" y="137.96" width="4.10" height="31.41" fill="#089981"/><rect x="537.57" y="137.96" width="4.10" height="14.08" fill="#f23645"/><rect x="542.31" y="145.42" width="4.10" height="6.62" fill="#089981"/><rect x="547.05" y="145.00" width="4.10" height="1.13" fill="#f23645"/><rect x="551.79" y="145.42" width="4.10" height="23.52" fill="#f23645"/><rect x="556.52" y="155.28" width="4.10" height="13.66" fill="#089981"/><rect x="561.26" y="137.96" width="4.10" height="17.61" fill="#089981"/><rect x="566.00" y="137.39" width="4.10" height="0.99" fill="#089981"/><rect x="570.74" y="103.50" width="4.10" height="34.25" fill="#089981"/><rect x="575.48" y="103.50" width="4.10" height="21.60" fill="#f23645"/><rect x="580.22" y="124.23" width="4.10" height="6.48" fill="#f23645"/><rect x="584.96" y="109.15" width="4.10" height="21.55" fill="#089981"/><rect x="589.69" y="76.10" width="4.10" height="33.50" fill="#089981"/><rect x="594.43" y="70.42" width="4.10" height="6.34" fill="#089981"/><rect x="599.17" y="70.42" width="4.10" height="16.48" fill="#f23645"/><rect x="603.91" y="86.90" width="4.10" height="3.94" fill="#f23645"/><rect x="608.65" y="90.80" width="4.10" height="24.00" fill="#f23645"/><rect x="613.39" y="114.37" width="4.10" height="5.35" fill="#f23645"/><rect x="618.12" y="104.23" width="4.10" height="15.49" fill="#089981"/><rect x="622.86" y="104.23" width="4.10" height="13.66" fill="#f23645"/><rect x="627.60" y="117.18" width="4.10" height="16.62" fill="#f23645"/><rect x="632.34" y="133.38" width="4.10" height="8.17" fill="#f23645"/><rect x="637.08" y="141.13" width="4.10" height="25.77" fill="#f23645"/><rect x="641.82" y="164.51" width="4.10" height="2.68" fill="#089981"/><rect x="646.56" y="151.13" width="4.10" height="13.38" fill="#089981"/><rect x="651.29" y="151.13" width="4.10" height="16.48" fill="#f23645"/><rect x="656.03" y="167.18" width="4.10" height="23.66" fill="#f23645"/><rect x="660.77" y="178.87" width="4.10" height="11.97" fill="#089981"/><rect x="665.51" y="176.06" width="4.10" height="2.82" fill="#089981"/><rect x="670.25" y="167.89" width="4.10" height="8.45" fill="#089981"/><rect x="674.99" y="167.89" width="4.10" height="30.28" fill="#f23645"/><rect x="679.73" y="191.55" width="4.10" height="6.62" fill="#089981"/><rect x="684.46" y="184.93" width="4.10" height="6.90" fill="#089981"/><rect x="689.20" y="180.28" width="4.10" height="4.65" fill="#089981"/><rect x="693.94" y="180.28" width="4.10" height="14.08" fill="#f23645"/><rect x="698.68" y="189.01" width="4.10" height="5.35" fill="#089981"/><rect x="703.42" y="173.66" width="4.10" height="15.77" fill="#089981"/><rect x="708.16" y="169.01" width="4.10" height="4.65" fill="#089981"/><rect x="712.90" y="168.29" width="4.10" height="0.60" fill="#089981"/><rect x="717.63" y="169.01" width="4.10" height="9.15" fill="#f23645"/><rect x="722.37" y="178.17" width="4.10" height="1.69" fill="#f23645"/><rect x="727.11" y="174.23" width="4.10" height="5.63" fill="#089981"/><rect x="731.85" y="169.01" width="4.10" height="5.63" fill="#089981"/><rect x="736.59" y="169.01" width="4.10" height="13.10" fill="#f23645"/><rect x="741.33" y="181.69" width="4.10" height="9.86" fill="#f23645"/><rect x="746.06" y="173.66" width="4.10" height="17.89" fill="#089981"/><rect x="750.80" y="174.23" width="4.10" height="8.17" fill="#f23645"/><rect x="755.54" y="182.11" width="4.10" height="15.77" fill="#f23645"/><rect x="760.28" y="197.82" width="4.10" height="16.76" fill="#f23645"/><rect x="765.02" y="209.79" width="4.10" height="4.79" fill="#089981"/><rect x="769.76" y="209.79" width="4.10" height="1.13" fill="#f23645"/><rect x="774.50" y="210.49" width="4.10" height="1.13" fill="#f23645"/><rect x="779.23" y="198.80" width="4.10" height="12.96" fill="#089981"/><rect x="783.97" y="193.87" width="4.10" height="5.21" fill="#089981"/><rect x="788.71" y="186.83" width="4.10" height="7.32" fill="#089981"/><rect x="793.45" y="186.83" width="4.10" height="5.63" fill="#f23645"/><rect x="798.19" y="190.77" width="4.10" height="1.69" fill="#089981"/><rect x="802.93" y="190.77" width="4.10" height="17.18" fill="#f23645"/><rect x="807.67" y="204.44" width="4.10" height="3.52" fill="#089981"/><rect x="812.40" y="204.44" width="4.10" height="6.76" fill="#f23645"/><rect x="817.14" y="204.72" width="4.10" height="6.48" fill="#089981"/><rect x="821.88" y="204.72" width="4.10" height="8.87" fill="#f23645"/><rect x="826.62" y="212.18" width="4.10" height="1.41" fill="#089981"/><rect x="831.36" y="212.61" width="4.10" height="6.34" fill="#f23645"/><rect x="836.10" y="212.89" width="4.10" height="6.06" fill="#089981"/><rect x="840.83" y="201.34" width="4.10" height="11.83" fill="#089981"/><rect x="845.57" y="179.08" width="4.10" height="22.82" fill="#089981"/><rect x="850.31" y="170.28" width="4.10" height="9.15" fill="#089981"/><rect x="855.05" y="139.15" width="4.10" height="31.13" fill="#089981"/>
<rect x="6" y="334" width="0.5" height="6" fill="#f23645" opacity="0.8"/>
</g>
<g clip-path="url(#rsi)">
<line x1="6" y1="438.47" x2="984" y2="438.47" stroke="#c8c8d4" stroke-width="0.7" stroke-dasharray="3.4 2.65" opacity="0.9"/>
<line x1="6" y1="474.93" x2="984" y2="474.93" stroke="#c8c8d4" stroke-width="0.7" stroke-dasharray="3.4 2.65" opacity="0.45"/>
<line x1="6" y1="511.4" x2="984" y2="511.4" stroke="#c8c8d4" stroke-width="0.7" stroke-dasharray="3.4 2.65" opacity="0.9"/>
<clipPath id="ob"><rect x="6" y="419" width="978" height="19.47"/></clipPath>
<polygon clip-path="url(#ob)" points="6.0,460.5 8.9,460.1 13.6,464.4 18.4,489.8 23.1,481.6 27.9,478.4 32.6,481.0 37.3,475.2 42.1,476.9 46.8,480.5 51.6,454.3 56.3,464.0 61.0,470.9 65.8,462.3 70.5,445.5 75.2,445.5 80.0,468.1 84.7,460.5 89.5,444.0 94.2,434.8 98.9,429.0 103.7,455.2 108.4,449.4 113.2,446.6 117.9,451.9 122.6,460.1 127.4,460.1 132.1,459.5 136.8,469.4 141.6,457.5 146.3,460.5 151.1,454.7 155.8,458.6 160.5,469.4 165.3,470.2 170.0,467.0 174.8,466.1 179.5,453.7 184.2,431.1 189.0,440.8 193.7,438.6 198.4,442.5 203.2,441.9 207.9,437.1 212.7,436.3 217.4,435.2 222.1,432.6 226.9,429.0 231.6,455.4 236.4,455.2 241.1,451.5 245.8,457.3 250.6,453.0 255.3,453.7 260.0,470.9 264.8,471.9 269.5,469.4 274.3,477.3 279.0,493.4 283.7,483.7 288.5,483.3 293.2,477.3 298.0,480.5 302.7,476.9 307.4,473.6 312.2,469.1 316.9,477.7 321.6,457.3 326.4,465.1 331.1,467.6 335.9,465.5 340.6,468.3 345.3,467.2 350.1,455.8 354.8,459.5 359.6,456.9 364.3,453.2 369.0,457.3 373.8,450.4 378.5,448.3 383.2,442.5 388.0,477.3 392.7,492.8 397.5,477.3 402.2,474.1 406.9,468.3 411.7,477.3 416.4,486.5 421.2,484.2 425.9,481.2 430.6,472.6 435.4,468.7 440.1,466.1 444.9,472.6 449.6,464.8 454.3,462.7 459.1,454.7 463.8,453.2 468.5,455.8 473.3,469.1 478.0,460.1 482.8,462.7 487.5,461.2 492.2,470.4 497.0,473.0 501.7,469.1 506.5,466.6 511.2,459.0 515.9,454.1 520.7,459.0 525.4,452.6 530.1,455.4 534.9,439.7 539.6,451.9 544.4,448.3 549.1,448.7 553.8,467.6 558.6,460.1 563.3,451.5 568.1,451.1 572.8,437.6 577.5,452.6 582.3,456.9 587.0,448.3 591.7,436.9 596.5,435.4 601.2,446.8 606.0,449.4 610.7,463.3 615.4,466.6 620.2,459.5 624.9,466.6 629.7,475.2 634.4,479.4 639.1,490.6 643.9,489.1 648.6,481.6 653.3,489.1 658.1,497.7 662.8,490.6 667.6,489.1 672.3,484.8 677.0,497.1 681.8,493.4 686.5,489.1 691.3,486.5 696.0,492.8 700.7,489.5 705.5,479.4 710.2,476.9 714.9,476.9 719.7,482.2 724.4,483.7 729.2,479.9 733.9,475.6 738.6,483.7 743.4,489.8 748.1,477.3 752.9,482.7 757.6,491.3 762.3,499.4 767.1,496.2 771.8,496.2 776.5,496.6 781.3,485.9 786.0,482.0 790.8,476.7 795.5,480.1 800.2,479.0 805.0,490.6 809.7,488.5 814.5,492.8 819.2,487.0 823.9,492.3 828.7,491.3 833.4,496.2 838.1,489.1 842.9,477.3 847.6,461.2 852.4,454.7 857.1,439.7 857.1,438.47 6.0,438.47" fill="#4caf50" opacity="0.14"/>
<polyline points="6.0,460.5 8.9,460.1 13.6,464.4 18.4,489.8 23.1,481.6 27.9,478.4 32.6,481.0 37.3,475.2 42.1,476.9 46.8,480.5 51.6,454.3 56.3,464.0 61.0,470.9 65.8,462.3 70.5,445.5 75.2,445.5 80.0,468.1 84.7,460.5 89.5,444.0 94.2,434.8 98.9,429.0 103.7,455.2 108.4,449.4 113.2,446.6 117.9,451.9 122.6,460.1 127.4,460.1 132.1,459.5 136.8,469.4 141.6,457.5 146.3,460.5 151.1,454.7 155.8,458.6 160.5,469.4 165.3,470.2 170.0,467.0 174.8,466.1 179.5,453.7 184.2,431.1 189.0,440.8 193.7,438.6 198.4,442.5 203.2,441.9 207.9,437.1 212.7,436.3 217.4,435.2 222.1,432.6 226.9,429.0 231.6,455.4 236.4,455.2 241.1,451.5 245.8,457.3 250.6,453.0 255.3,453.7 260.0,470.9 264.8,471.9 269.5,469.4 274.3,477.3 279.0,493.4 283.7,483.7 288.5,483.3 293.2,477.3 298.0,480.5 302.7,476.9 307.4,473.6 312.2,469.1 316.9,477.7 321.6,457.3 326.4,465.1 331.1,467.6 335.9,465.5 340.6,468.3 345.3,467.2 350.1,455.8 354.8,459.5 359.6,456.9 364.3,453.2 369.0,457.3 373.8,450.4 378.5,448.3 383.2,442.5 388.0,477.3 392.7,492.8 397.5,477.3 402.2,474.1 406.9,468.3 411.7,477.3 416.4,486.5 421.2,484.2 425.9,481.2 430.6,472.6 435.4,468.7 440.1,466.1 444.9,472.6 449.6,464.8 454.3,462.7 459.1,454.7 463.8,453.2 468.5,455.8 473.3,469.1 478.0,460.1 482.8,462.7 487.5,461.2 492.2,470.4 497.0,473.0 501.7,469.1 506.5,466.6 511.2,459.0 515.9,454.1 520.7,459.0 525.4,452.6 530.1,455.4 534.9,439.7 539.6,451.9 544.4,448.3 549.1,448.7 553.8,467.6 558.6,460.1 563.3,451.5 568.1,451.1 572.8,437.6 577.5,452.6 582.3,456.9 587.0,448.3 591.7,436.9 596.5,435.4 601.2,446.8 606.0,449.4 610.7,463.3 615.4,466.6 620.2,459.5 624.9,466.6 629.7,475.2 634.4,479.4 639.1,490.6 643.9,489.1 648.6,481.6 653.3,489.1 658.1,497.7 662.8,490.6 667.6,489.1 672.3,484.8 677.0,497.1 681.8,493.4 686.5,489.1 691.3,486.5 696.0,492.8 700.7,489.5 705.5,479.4 710.2,476.9 714.9,476.9 719.7,482.2 724.4,483.7 729.2,479.9 733.9,475.6 738.6,483.7 743.4,489.8 748.1,477.3 752.9,482.7 757.6,491.3 762.3,499.4 767.1,496.2 771.8,496.2 776.5,496.6 781.3,485.9 786.0,482.0 790.8,476.7 795.5,480.1 800.2,479.0 805.0,490.6 809.7,488.5 814.5,492.8 819.2,487.0 823.9,492.3 828.7,491.3 833.4,496.2 838.1,489.1 842.9,477.3 847.6,461.2 852.4,454.7 857.1,439.7" fill="none" stroke="#7e57c2" stroke-width="0.7" stroke-linejoin="round"/>
</g>
<g font-family="Liberation Sans, sans-serif" font-size="6.2" fill="#dadde4"><text x="988.7" y="50.04">76,250.0</text><text x="988.7" y="66.00">76,000.0</text><text x="988.7" y="81.96">75,750.0</text><text x="988.7" y="97.91">75,500.0</text><text x="988.7" y="113.87">75,250.0</text><text x="988.7" y="129.83">75,000.0</text><text x="988.7" y="145.78">74,750.0</text><text x="988.7" y="161.74">74,500.0</text><text x="988.7" y="177.70">74,250.0</text><text x="988.7" y="193.65">74,000.0</text><text x="988.7" y="209.61">73,750.0</text><text x="988.7" y="225.57">73,500.0</text><text x="988.7" y="241.52">73,250.0</text><text x="988.7" y="257.48">73,000.0</text><text x="988.7" y="273.44">72,750.0</text><text x="988.7" y="289.39">72,500.0</text><text x="988.7" y="305.35">72,250.0</text><text x="988.7" y="321.31">72,000.0</text><text x="988.7" y="337.26">71,750.0</text><text x="988.7" y="353.22">71,500.0</text><text x="988.7" y="369.18">71,250.0</text><text x="988.7" y="385.13">71,000.0</text><text x="988.7" y="401.09">70,750.0</text><text x="988.7" y="417.05">70,500.0</text><text x="988.7" y="440.67">70.00</text><text x="988.7" y="458.90">60.00</text><text x="988.7" y="477.13">50.00</text><text x="988.7" y="495.40">40.00</text><text x="988.7" y="513.60">30.00</text></g>
<g clip-path="url(#c80)"><clipPath id="c80"><rect x="984" y="419" width="34" height="6"/></clipPath><text x="988.7" y="423" font-family="Liberation Sans, sans-serif" font-size="6.2" fill="#dadde4">80.00</text></g>
<g clip-path="url(#c765)"><clipPath id="c765"><rect x="984" y="34.05" width="34" height="3"/></clipPath><text x="988.7" y="34.7" opacity="0.7" font-family="Liberation Sans, sans-serif" font-size="6.2" fill="#dadde4">76,500.0</text></g>
<g clip-path="url(#cl)"><clipPath id="cl"><rect x="6" y="520" width="20" height="14"/></clipPath><text x="4.17" y="529.4" text-anchor="middle" font-family="Liberation Sans, sans-serif" font-size="6.2" fill="#dadde4">03:00</text></g>
<g font-family="Liberation Sans, sans-serif" font-size="6.2" fill="#dadde4"><text x="32.60" y="529.4" text-anchor="middle">04:30</text><text x="61.03" y="529.4" text-anchor="middle">06:00</text><text x="89.46" y="529.4" text-anchor="middle">07:30</text><text x="117.89" y="529.4" text-anchor="middle">09:00</text><text x="146.33" y="529.4" text-anchor="middle">10:30</text><text x="174.76" y="529.4" text-anchor="middle">12:00</text><text x="203.19" y="529.4" text-anchor="middle">13:30</text><text x="231.62" y="529.4" text-anchor="middle">15:00</text><text x="260.05" y="529.4" text-anchor="middle">16:30</text><text x="288.48" y="529.4" text-anchor="middle">18:00</text><text x="316.91" y="529.4" text-anchor="middle">19:30</text><text x="345.34" y="529.4" text-anchor="middle">21:00</text><text x="373.77" y="529.4" text-anchor="middle">22:30</text><text x="402.20" y="529.4" text-anchor="middle" font-weight="bold">17</text><text x="430.63" y="529.4" text-anchor="middle">01:30</text><text x="459.07" y="529.4" text-anchor="middle">03:00</text><text x="487.50" y="529.4" text-anchor="middle">04:30</text><text x="515.93" y="529.4" text-anchor="middle">06:00</text><text x="544.36" y="529.4" text-anchor="middle">07:30</text><text x="572.79" y="529.4" text-anchor="middle">09:00</text><text x="601.22" y="529.4" text-anchor="middle">10:30</text><text x="629.65" y="529.4" text-anchor="middle">12:00</text><text x="658.08" y="529.4" text-anchor="middle">13:30</text><text x="686.51" y="529.4" text-anchor="middle">15:00</text><text x="714.95" y="529.4" text-anchor="middle">16:30</text><text x="743.38" y="529.4" text-anchor="middle">18:00</text><text x="771.81" y="529.4" text-anchor="middle">19:30</text><text x="800.24" y="529.4" text-anchor="middle">21:00</text><text x="828.67" y="529.4" text-anchor="middle">22:30</text><text x="857.10" y="529.4" text-anchor="middle" font-weight="bold">18</text><text x="885.53" y="529.4" text-anchor="middle">01:30</text><text x="913.96" y="529.4" text-anchor="middle">03:00</text><text x="942.39" y="529.4" text-anchor="middle">04:30</text><text x="970.82" y="529.4" text-anchor="middle">06:00</text></g>
<rect x="984.3" y="135.7" width="31.6" height="14" rx="0.8" fill="#089981"/>
<text x="988.7" y="141.2" font-family="Liberation Sans, sans-serif" font-size="6.2" fill="#fff">74,825.2</text>
<text x="988.7" y="147.6" font-family="Liberation Sans, sans-serif" font-size="6.2" fill="#fff" opacity="0.8">11:17</text>
<rect x="986.3" y="17.3" width="29.5" height="14.4" rx="1.8" fill="#111111" stroke="#242424" stroke-width="0.6"/>
<text x="990.9" y="26.9" textLength="17.9" lengthAdjust="spacingAndGlyphs" font-family="Liberation Sans, sans-serif" font-size="6.9" fill="#dcdcdc">USDT</text>
<g font-family="Liberation Sans, sans-serif" font-size="5.6">
<text x="873.1" y="176.8" fill="#e8e8e8" textLength="29.2" lengthAdjust="spacingAndGlyphs">VWMA 100</text>
<text x="873.4" y="186.0" fill="#43b648">SMA 500</text>
<text x="873.5" y="186.6" fill="#f2c020" opacity="0.6">SMA 20</text>
<text x="873.4" y="230" fill="#2962ff">SMA 200</text>
</g>
<g font-family="Liberation Sans, sans-serif" font-size="6.9" fill="#fff">
<text x="10" y="26.4" textLength="128" lengthAdjust="spacingAndGlyphs">BTCUSDT Perpetual Contract · 15 · Bybit</text>
<text x="10" y="35.6" textLength="143" lengthAdjust="spacingAndGlyphs">ONE MA (Simple version) — with label offsets</text>
<text x="10" y="44.9" textLength="8.6" lengthAdjust="spacingAndGlyphs">KC</text>
<text x="10" y="430" textLength="10.4" lengthAdjust="spacingAndGlyphs">RSI</text>
</g>
<g font-family="Liberation Sans, sans-serif" font-size="6.9" fill="#089981">
<text x="146.8" y="26.4" textLength="28.5" lengthAdjust="spacingAndGlyphs">74,344.0</text>
<text x="185.2" y="26.4" textLength="27.8" lengthAdjust="spacingAndGlyphs">74,876.6</text>
<text x="221.8" y="26.4" textLength="27.8" lengthAdjust="spacingAndGlyphs">74,325.5</text>
<text x="258.3" y="26.4" textLength="27.8" lengthAdjust="spacingAndGlyphs">74,825.2</text>
<text x="289.8" y="26.4" textLength="53" lengthAdjust="spacingAndGlyphs">+481.2 (+0.65%)</text>
<text x="358.3" y="26.4" textLength="17.5" lengthAdjust="spacingAndGlyphs">1.87K</text>
</g>
<g font-family="Liberation Sans, sans-serif" font-size="7.5" fill="#2e2e2e" stroke="#2e2e2e" stroke-width="0.15">
<text x="5.7" y="11.1" textLength="35.4" lengthAdjust="spacingAndGlyphs">chitchit001</text>
<text x="48.9" y="11.1" textLength="52.8" lengthAdjust="spacingAndGlyphs">TradingView.com</text>
<text x="123.5" y="11.1" textLength="3.7" lengthAdjust="spacingAndGlyphs">3</text>
<text x="135.2" y="11.1" textLength="9.4" lengthAdjust="spacingAndGlyphs">18,</text>
<text x="146.5" y="11.1" textLength="16" lengthAdjust="spacingAndGlyphs">2026</text>
<text x="165.2" y="11.1" textLength="18" lengthAdjust="spacingAndGlyphs">00:03</text>
<text x="185.9" y="11.1" textLength="23.2" lengthAdjust="spacingAndGlyphs">UTC+9</text>
</g>
<path transform="translate(41.60,4.90) scale(0.460,0.680)" d="M0.8,5 a2.2,2.2 0 1,0 4.4,0 a2.2,2.2 0 1,0 -4.4,0 M7.5,0.5 L7.5,9.5" fill="none" stroke="#2e2e2e" stroke-width="1.25" stroke-linecap="square"/>
<path transform="translate(102.20,4.90) scale(0.520,0.680)" d="M1.2,3 a1.8,1.8 0 1,0 3.6,0 a1.8,1.8 0 1,0 -3.6,0 M3,5.2 L3,7 M0.5,7.2 L5.8,7.2 M7.5,0.5 L7.5,9.5 M7.5,4.5 L9.5,4.5" fill="none" stroke="#2e2e2e" stroke-width="1.25" stroke-linecap="square"/>
<path transform="translate(110.20,4.90) scale(0.520,0.680)" d="M2,0.8 L4.4,0.8 M0.8,2 L5.6,2 M1.9,4.1 a1.3,1.3 0 1,0 2.6,0 a1.3,1.3 0 1,0 -2.6,0 M7.5,0.5 L7.5,5.8 M7.5,3 L9.5,3 M2,6.8 L8,6.8 L8,9.5 L2,9.5 L2,6.8" fill="none" stroke="#2e2e2e" stroke-width="1.25" stroke-linecap="square"/>
<path transform="translate(115.80,4.90) scale(0.520,0.680)" d="M0.5,2 L2.5,2 L2.2,7.5 M3.2,2 L5.2,2 L4.8,7.5 M5.2,4.5 L6.8,4.5 M6.8,0.5 L6.8,9.5 M9,0.5 L9,9.5" fill="none" stroke="#2e2e2e" stroke-width="1.25" stroke-linecap="square"/>
<path transform="translate(127.60,4.90) scale(0.540,0.680)" d="M1.8,1.8 a1.4,1.4 0 1,0 2.8,0 a1.4,1.4 0 1,0 -2.8,0 M0.5,4 L6,4 M3.2,4 L3.2,5.8 M8,0.3 L8,6 M6.2,3 L8,3 M1.5,6.8 L8,6.8 L8,8.1 L1.5,8.1 L1.5,9.5 L8.3,9.5" fill="none" stroke="#2e2e2e" stroke-width="1.25" stroke-linecap="square"/>
<path transform="translate(209.40,4.90) scale(0.460,0.680)" d="M0.5,5 a2,2 0 1,0 4,0 a2,2 0 1,0 -4,0 M4.7,5 L6.5,5 M6.5,0.5 L6.5,9.5 M8.8,0.5 L8.8,9.5" fill="none" stroke="#2e2e2e" stroke-width="1.25" stroke-linecap="square"/>
<path transform="translate(215.60,4.90) scale(0.520,0.680)" d="M3,0.8 L0.8,5.2 M3,2.5 L5,5.2 M6.5,0.5 L6.5,5.8 M8.8,0.5 L8.8,5.8 M6.5,3 L8.8,3 M2.4,8 a2.6,1.6 0 1,0 5.2,0 a2.6,1.6 0 1,0 -5.2,0" fill="none" stroke="#2e2e2e" stroke-width="1.25" stroke-linecap="square"/>
<path transform="translate(221.20,4.90) scale(0.520,0.680)" d="M3,0.8 L0.8,5.2 M3,2.5 L5,5.2 M5.2,3 L7.8,3 M7.8,0.5 L7.8,5.8 M2.4,8 a2.6,1.6 0 1,0 5.2,0 a2.6,1.6 0 1,0 -5.2,0" fill="none" stroke="#2e2e2e" stroke-width="1.25" stroke-linecap="square"/>
<path transform="translate(226.80,4.90) scale(0.520,0.680)" d="M5.5,1 L0.8,1 L0.8,3.5 L5.5,3.5 M3,3.5 L3,5 M0.3,5.2 L6,5.2 M8,0.5 L8,6 M2,6.8 L8.2,6.8 L8.2,9.5 L2,9.5 L2,6.8" fill="none" stroke="#2e2e2e" stroke-width="1.25" stroke-linecap="square"/>
<path transform="translate(142.20,20.90) scale(0.490,0.620)" d="M3.2,1 L0.5,9 M3.2,4 L5.8,9 M8,0.5 L8,9.5" fill="none" stroke="#f0f0f0" stroke-width="1.2" stroke-linecap="square"/>
<path transform="translate(179.40,20.90) scale(0.530,0.620)" d="M1.5,1.5 L8.2,1.5 L7.8,5 M5,5 L5,8.3 M0.5,8.5 L9.5,8.5" fill="none" stroke="#f0f0f0" stroke-width="1.2" stroke-linecap="square"/>
<path transform="translate(216.20,20.90) scale(0.490,0.620)" d="M0.5,1.5 L5.5,1.5 M3,1.5 L0.5,9 M3,4 L5.5,9 M5.8,4.5 L8,4.5 M8,0.5 L8,9.5" fill="none" stroke="#f0f0f0" stroke-width="1.2" stroke-linecap="square"/>
<path transform="translate(252.80,20.90) scale(0.530,0.620)" d="M1.5,0.8 L8.5,0.8 M5,0.8 L1.5,4 M5,2 L8.5,4 M5,4.2 L5,5.8 M0.5,6 L9.5,6 M2.5,8.3 a2.5,1.4 0 1,0 5,0 a2.5,1.4 0 1,0 -5,0" fill="none" stroke="#f0f0f0" stroke-width="1.2" stroke-linecap="square"/>
<path transform="translate(347.40,20.90) scale(0.530,0.620)" d="M2,0.3 L2,3.6 L8,3.6 L8,0.3 M2,1.9 L8,1.9 M5,3.6 L5,5 M0.5,5.2 L9.5,5.2 M1.8,6.5 L8.2,6.5 L8.2,7.8 L1.8,7.8 L1.8,9.4 L8.5,9.4" fill="none" stroke="#f0f0f0" stroke-width="1.2" stroke-linecap="square"/>
<path transform="translate(353.00,20.90) scale(0.530,0.620)" d="M1.8,0.4 L8.2,0.4 L8.2,1.7 L1.8,1.7 L1.8,3.2 L8.5,3.2 M0.5,4.6 L9.5,4.6 M3.5,4.6 L3.5,6.2 M6.5,4.6 L6.5,6.2 M2,7 L8,7 L8,9.6 L2,9.6 L2,7" fill="none" stroke="#f0f0f0" stroke-width="1.2" stroke-linecap="square"/>
<g transform="translate(6.5,544.9) scale(0.456)" fill="#1c1c1c"><path d="M14 22H7V11H0V4h14v18z"/><circle cx="20" cy="8" r="4"/><path d="M28 22h-8l7.5-18h8L28 22z"/></g>
<text x="27.4" y="555" font-family="Liberation Sans, sans-serif" font-weight="bold" font-size="11.6" fill="#1c1c1c" textLength="67" lengthAdjust="spacingAndGlyphs">TradingView</text>
</svg>
</body></html>
